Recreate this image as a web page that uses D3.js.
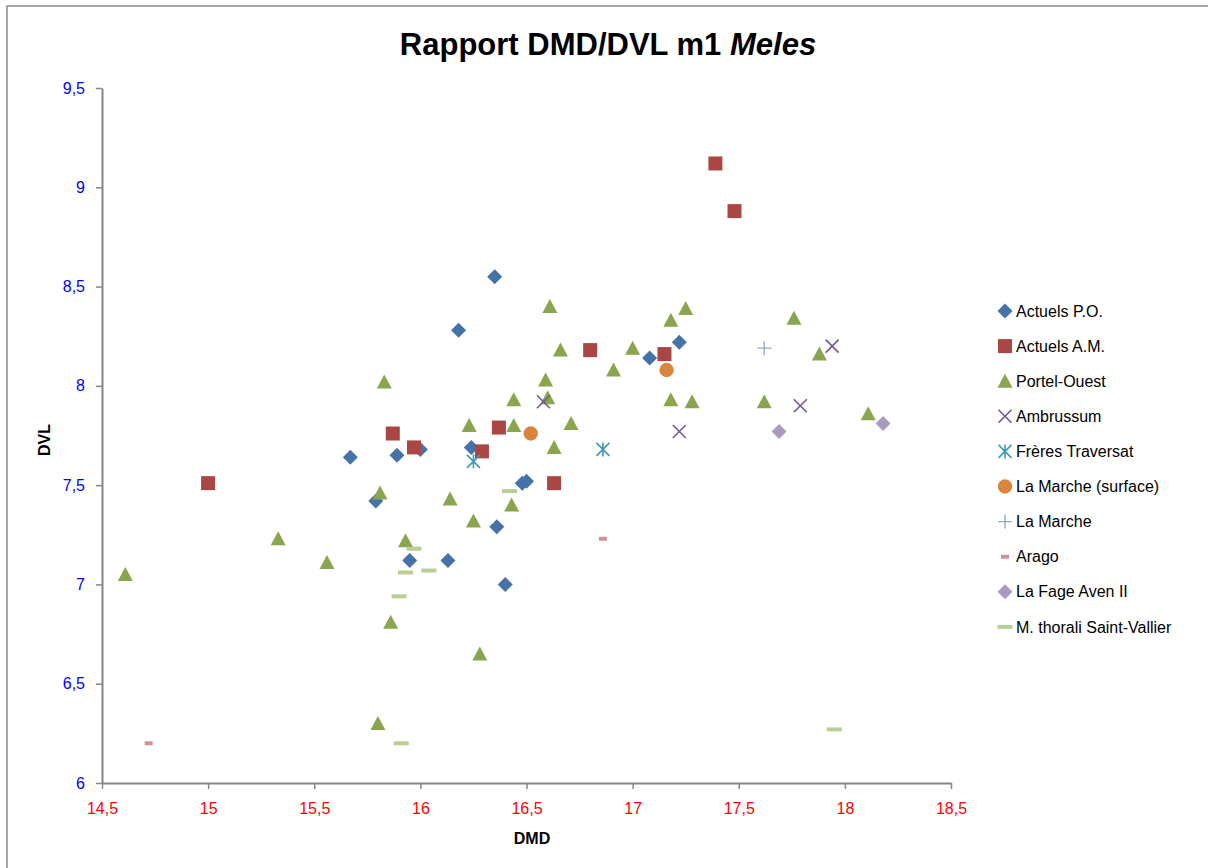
<!DOCTYPE html>
<html><head><meta charset="utf-8">
<script src="https://cdn.jsdelivr.net/npm/d3@7"></script>
<style>
body{margin:0;background:#fff;}
svg{display:block;}
text{font-family:"Liberation Sans Narrow","Arial Narrow","Liberation Sans",sans-serif;}
</style></head><body>
<svg id="chart" width="1208" height="868"></svg>
<script>
// ---- data ----
const xTicks = [14.5,15,15.5,16,16.5,17,17.5,18,18.5];
const xTickLabels = ["14,5","15","15,5","16","16,5","17","17,5","18","18,5"];
const yTicks = [6,6.5,7,7.5,8,8.5,9,9.5];
const yTickLabels = ["6","6,5","7","7,5","8","8,5","9","9,5"];

const actuelsPO = [[16.35,8.55],[16.18,8.28],[15.67,7.64],[15.89,7.65],[16.00,7.68],[15.79,7.42],[16.24,7.69],[16.48,7.51],[16.50,7.52],[16.36,7.29],[15.95,7.12],[16.13,7.12],[16.40,7.00],[17.08,8.14],[17.22,8.22]];
const actuelsAM = [[15.00,7.51],[15.87,7.76],[15.97,7.69],[16.37,7.79],[16.29,7.67],[16.63,7.51],[16.80,8.18],[17.15,8.16],[17.39,9.12],[17.48,8.88]];
const portelOuest = [[14.61,7.05],[15.33,7.23],[15.56,7.11],[15.83,8.02],[15.81,7.46],[15.93,7.22],[15.86,6.81],[15.80,6.30],[16.14,7.43],[16.23,7.80],[16.25,7.32],[16.28,6.65],[16.43,7.40],[16.44,7.80],[16.44,7.93],[16.59,8.03],[16.60,7.94],[16.61,8.40],[16.63,7.69],[16.66,8.18],[16.71,7.81],[16.91,8.08],[17.00,8.19],[17.18,8.33],[17.25,8.39],[17.18,7.93],[17.28,7.92],[17.62,7.92],[17.76,8.34],[17.88,8.16],[18.11,7.86]];
const ambrussum = [[16.58,7.92],[17.22,7.77],[17.79,7.90],[17.94,8.20]];
const freresTraversat = [[16.25,7.62],[16.86,7.68]];
const laMarcheSurface = [[16.52,7.76],[17.16,8.08]];
const laMarche = [[17.62,8.19]];
const arago = [[14.72,6.20],[16.86,7.23]];
const laFage = [[17.69,7.77],[18.18,7.81]];
const thorali = [[16.42,7.47],[15.97,7.18],[15.93,7.06],[16.04,7.07],[15.90,6.94],[15.91,6.20],[17.95,6.27]];

const seriesNames = ["Actuels P.O.","Actuels A.M.","Portel-Ouest","Ambrussum","Frères Traversat","La Marche (surface)","La Marche","Arago","La Fage Aven II","M. thorali Saint-Vallier"];
const seriesData = [actuelsPO,actuelsAM,portelOuest,ambrussum,freresTraversat,laMarcheSurface,laMarche,arago,laFage,thorali];
const seriesColors = ["#4572A7","#AA4643","#89A54E","#71588F","#4198AF","#DB843D","#93A9CF","#D19392","#A99BBD","#B9CD96"];
const seriesShapes = ["diamond","square","triangle","x","star","circle","plus","smalldash","diamond","dash"];

// ---- layout ----
const svg = d3.select("#chart");
const L = 102, R = 951, T = 88, B = 783;
const x = d3.scaleLinear().domain([14.5,18.5]).range([L,R]);
const y = d3.scaleLinear().domain([6,9.5]).range([B,T]);

// outer border
svg.append("rect").attr("x",7).attr("y",6).attr("width",1400).attr("height",1000)
  .attr("fill","none").attr("stroke","#8c8c8c").attr("stroke-width",1.5);

// title
const title = svg.append("text").attr("x",608).attr("y",55).attr("text-anchor","middle")
  .attr("font-size",31).attr("font-weight","bold").attr("fill","#000");
title.append("tspan").text("Rapport DMD/DVL m1 ");
title.append("tspan").attr("font-style","italic").text("Meles");

// axes
const axisColor = "#868686";
const xAxis = d3.axisBottom(x).tickValues(xTicks).tickFormat((d,i)=>xTickLabels[i]).tickSize(6).tickSizeOuter(0);
const yAxis = d3.axisLeft(y).tickValues(yTicks).tickFormat((d,i)=>yTickLabels[i]).tickSize(6).tickSizeOuter(0);

const gx = svg.append("g").attr("transform",`translate(0,${B})`).call(xAxis);
gx.select(".domain").attr("stroke",axisColor).attr("stroke-width",2);
gx.selectAll(".tick line").attr("stroke",axisColor).attr("stroke-width",1.5);
gx.selectAll(".tick text").attr("fill","#FF0000").attr("font-size",16).attr("dy","0").attr("y",31)
  .attr("font-family","\"Liberation Sans Narrow\",\"Liberation Sans\",sans-serif");

const gy = svg.append("g").attr("transform",`translate(${L},0)`).call(yAxis);
gy.select(".domain").attr("stroke",axisColor).attr("stroke-width",2);
gy.selectAll(".tick line").attr("stroke",axisColor).attr("stroke-width",1.5);
gy.selectAll(".tick text").attr("fill","#0000FF").attr("font-size",16).attr("x",-17)
  .attr("font-family","\"Liberation Sans Narrow\",\"Liberation Sans\",sans-serif");

// axis titles
svg.append("text").attr("x",532).attr("y",844).attr("text-anchor","middle")
  .attr("font-size",16).attr("font-weight","bold").text("DMD");
svg.append("text").attr("transform","translate(50,440) rotate(-90)").attr("text-anchor","middle")
  .attr("font-size",16).attr("font-weight","bold").text("DVL");

// marker drawing
function drawMarker(g, shape, color, cx, cy){
  switch(shape){
    case "diamond":
      g.append("path").attr("d",`M${cx},${cy-7.5}L${cx+7.5},${cy}L${cx},${cy+7.5}L${cx-7.5},${cy}Z`).attr("fill",color);
      break;
    case "square":
      g.append("rect").attr("x",cx-7).attr("y",cy-7).attr("width",14).attr("height",14).attr("fill",color);
      break;
    case "triangle":
      g.append("path").attr("d",`M${cx},${cy-7.5}L${cx+7.5},${cy+6.5}L${cx-7.5},${cy+6.5}Z`).attr("fill",color);
      break;
    case "circle":
      g.append("circle").attr("cx",cx).attr("cy",cy).attr("r",7.2).attr("fill",color);
      break;
    case "x":
      g.append("path").attr("d",`M${cx-6.5},${cy-6.5}L${cx+6.5},${cy+6.5}M${cx-6.5},${cy+6.5}L${cx+6.5},${cy-6.5}`)
        .attr("stroke",color).attr("stroke-width",1.6).attr("fill","none");
      break;
    case "star":
      g.append("path").attr("d",`M${cx-6.5},${cy-6.5}L${cx+6.5},${cy+6.5}M${cx-6.5},${cy+6.5}L${cx+6.5},${cy-6.5}M${cx},${cy-7}L${cx},${cy+7}`)
        .attr("stroke",color).attr("stroke-width",1.6).attr("fill","none");
      break;
    case "plus":
      g.append("path").attr("d",`M${cx-7},${cy}L${cx+7},${cy}M${cx},${cy-7}L${cx},${cy+7}`)
        .attr("stroke",color).attr("stroke-width",1.4).attr("fill","none");
      break;
    case "smalldash":
      g.append("rect").attr("x",cx-4).attr("y",cy-2).attr("width",8).attr("height",4).attr("fill",color);
      break;
    case "dash":
      g.append("rect").attr("x",cx-7.5).attr("y",cy-2).attr("width",15).attr("height",4).attr("fill",color);
      break;
  }
}

const plot = svg.append("g");
seriesData.forEach((data,i)=>{
  const g = plot.append("g").attr("class","series");
  data.forEach(d=>drawMarker(g, seriesShapes[i], seriesColors[i], x(d[0]), y(d[1])));
});

// legend
const legend = svg.append("g");
const legY0 = 311, legStep = 35.1;
seriesNames.forEach((name,i)=>{
  const ly = legY0 + i*legStep;
  const g = legend.append("g");
  drawMarker(g, seriesShapes[i], seriesColors[i], 1005, ly);
  g.append("text").attr("x",1016).attr("y",ly).attr("dy","0.35em")
    .attr("font-size",16).attr("fill","#000").text(name);
});
</script>
</body></html>
